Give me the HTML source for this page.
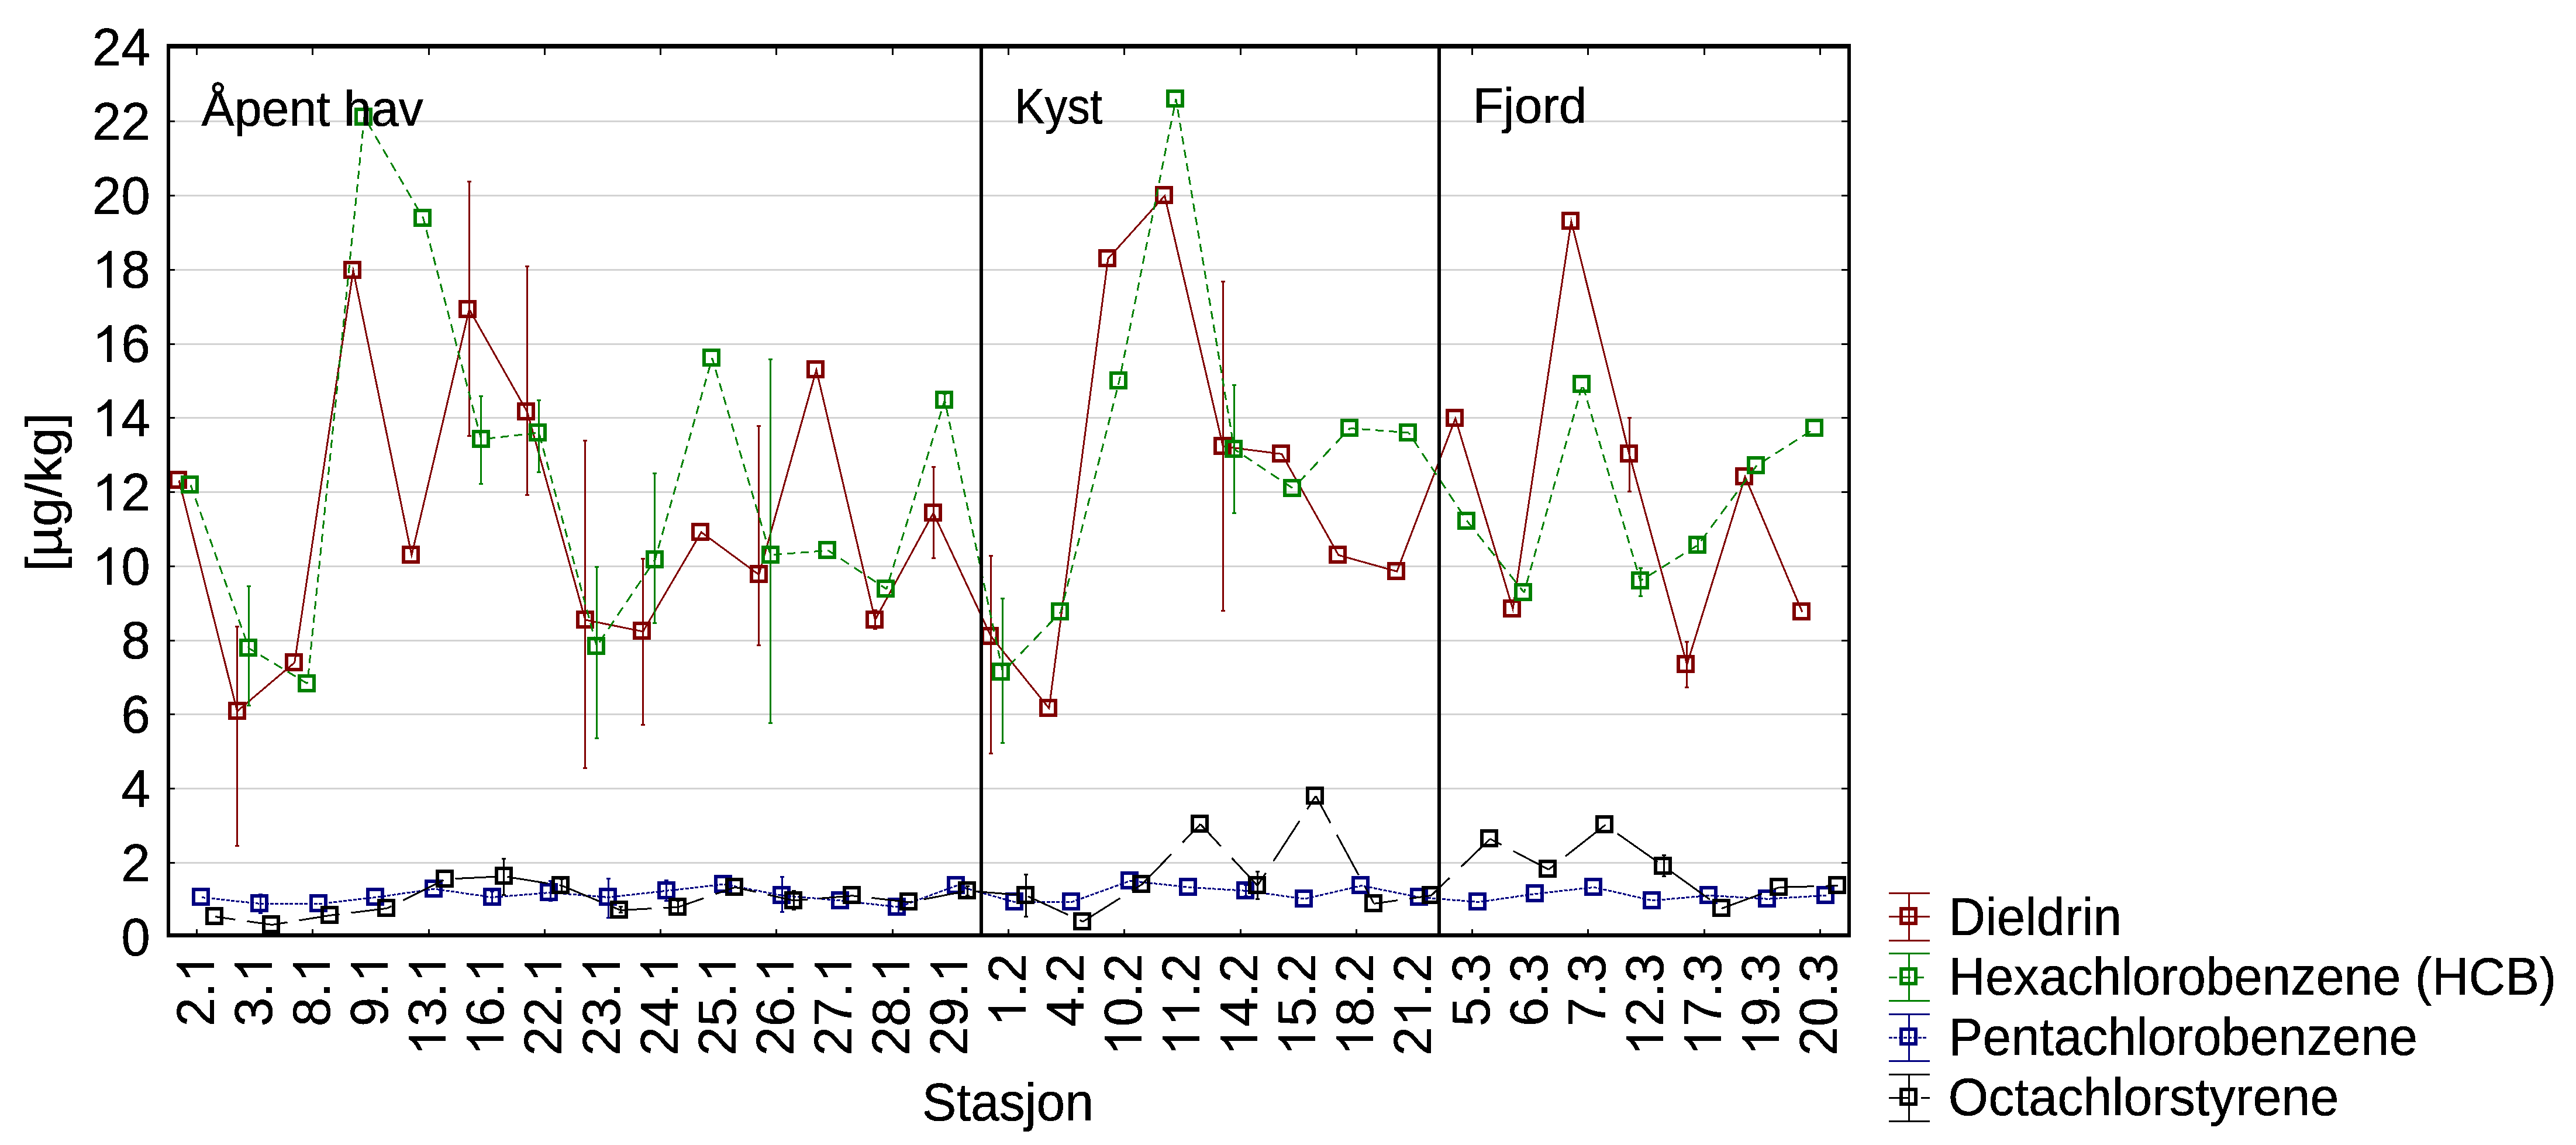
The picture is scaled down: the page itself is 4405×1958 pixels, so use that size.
<!DOCTYPE html>
<html lang="no">
<head>
<meta charset="utf-8">
<title>Stasjon</title>
<style>
html,body{margin:0;padding:0;background:#fff;}
body{width:4405px;height:1958px;overflow:hidden;}
svg{display:block;}
text{font-family:"Liberation Sans",sans-serif;fill:#000;}
.a{font-size:88px;stroke:#000;stroke-width:0.45px;}
.g1{fill:#000;stroke:#000;stroke-width:10;}
.s{font-size:83px;stroke:#000;stroke-width:0.6px;}
</style>
</head>
<body>
<svg width="4405" height="1958" viewBox="0 0 4405 1958" shape-rendering="crispEdges">
<defs><filter id="th" x="-5%" y="-5%" width="110%" height="110%" color-interpolation-filters="sRGB"><feComponentTransfer><feFuncA type="discrete" tableValues="0 1"/></feComponentTransfer></filter></defs>
<rect x="0" y="0" width="4405" height="1958" fill="#fff"/>
<g>
<rect x="299" y="1474" width="2850" height="3" fill="#d3d3d3"/>
<rect x="291" y="1474" width="8" height="3" fill="#000"/>
<rect x="3149" y="1474" width="10" height="3" fill="#000"/>
<rect x="299" y="1347" width="2850" height="3" fill="#d3d3d3"/>
<rect x="291" y="1347" width="8" height="3" fill="#000"/>
<rect x="3149" y="1347" width="10" height="3" fill="#000"/>
<rect x="299" y="1220" width="2850" height="3" fill="#d3d3d3"/>
<rect x="291" y="1220" width="8" height="3" fill="#000"/>
<rect x="3149" y="1220" width="10" height="3" fill="#000"/>
<rect x="299" y="1094" width="2850" height="3" fill="#d3d3d3"/>
<rect x="291" y="1094" width="8" height="3" fill="#000"/>
<rect x="3149" y="1094" width="10" height="3" fill="#000"/>
<rect x="299" y="967" width="2850" height="3" fill="#d3d3d3"/>
<rect x="291" y="967" width="8" height="3" fill="#000"/>
<rect x="3149" y="967" width="10" height="3" fill="#000"/>
<rect x="299" y="840" width="2850" height="3" fill="#d3d3d3"/>
<rect x="291" y="840" width="8" height="3" fill="#000"/>
<rect x="3149" y="840" width="10" height="3" fill="#000"/>
<rect x="299" y="713" width="2850" height="3" fill="#d3d3d3"/>
<rect x="291" y="713" width="8" height="3" fill="#000"/>
<rect x="3149" y="713" width="10" height="3" fill="#000"/>
<rect x="299" y="587" width="2850" height="3" fill="#d3d3d3"/>
<rect x="291" y="587" width="8" height="3" fill="#000"/>
<rect x="3149" y="587" width="10" height="3" fill="#000"/>
<rect x="299" y="460" width="2850" height="3" fill="#d3d3d3"/>
<rect x="291" y="460" width="8" height="3" fill="#000"/>
<rect x="3149" y="460" width="10" height="3" fill="#000"/>
<rect x="299" y="333" width="2850" height="3" fill="#d3d3d3"/>
<rect x="291" y="333" width="8" height="3" fill="#000"/>
<rect x="3149" y="333" width="10" height="3" fill="#000"/>
<rect x="299" y="206" width="2850" height="3" fill="#d3d3d3"/>
<rect x="291" y="206" width="8" height="3" fill="#000"/>
<rect x="3149" y="206" width="10" height="3" fill="#000"/>
</g>
<g fill="#000">
<rect x="335" y="83" width="3" height="11"/>
<rect x="335" y="1589" width="3" height="7"/>
<rect x="533" y="83" width="3" height="11"/>
<rect x="533" y="1589" width="3" height="7"/>
<rect x="732" y="83" width="3" height="11"/>
<rect x="732" y="1589" width="3" height="7"/>
<rect x="930" y="83" width="3" height="11"/>
<rect x="930" y="1589" width="3" height="7"/>
<rect x="1128" y="83" width="3" height="11"/>
<rect x="1128" y="1589" width="3" height="7"/>
<rect x="1326" y="83" width="3" height="11"/>
<rect x="1326" y="1589" width="3" height="7"/>
<rect x="1525" y="83" width="3" height="11"/>
<rect x="1525" y="1589" width="3" height="7"/>
<rect x="1723" y="83" width="3" height="11"/>
<rect x="1723" y="1589" width="3" height="7"/>
<rect x="1921" y="83" width="3" height="11"/>
<rect x="1921" y="1589" width="3" height="7"/>
<rect x="2120" y="83" width="3" height="11"/>
<rect x="2120" y="1589" width="3" height="7"/>
<rect x="2318" y="83" width="3" height="11"/>
<rect x="2318" y="1589" width="3" height="7"/>
<rect x="2516" y="83" width="3" height="11"/>
<rect x="2516" y="1589" width="3" height="7"/>
<rect x="2714" y="83" width="3" height="11"/>
<rect x="2714" y="1589" width="3" height="7"/>
<rect x="2913" y="83" width="3" height="11"/>
<rect x="2913" y="1589" width="3" height="7"/>
<rect x="3111" y="83" width="3" height="11"/>
<rect x="3111" y="1589" width="3" height="7"/>
</g>
<g stroke="#800000" fill="none">
<path stroke-width="3" stroke-linejoin="miter" stroke-miterlimit="12" d="M306 821.5 L405.6 1216.2 L503.7 1133 L604 462.5 L703.9 949.3 L802.4 529 L901.6 704.4 L1000.8 1060 L1099.6 1079.9 L1199.2 910.1 L1297.8 982.8 L1396 632.4 L1496.5 1060 L1596 877.3 L1694.6 1088.3 L1793.9 1211.3 L1894.8 442.4 L1991.6 334.8 L2091.4 763.5 L2191.8 776.4 L2288.9 949.3 L2388.8 977.2 L2488.8 715.6 L2587 1041.2 L2686.9 378.5 L2786 776.4 L2884.8 1136.2 L2984.1 815.2 L3081.9 1046.4"/>
<path stroke-width="3" d="M405.6 1070.9V1447.5M402.1 1071.9h7M402.1 1446.5h7M802.4 309.3V746.4M798.9 310.3h7M798.9 745.4h7M901.6 454.3V847.4M898.1 455.3h7M898.1 846.4h7M1000.8 752.3V1314.4M997.3 753.3h7M997.3 1313.4h7M1099.6 954.9V1240M1096.1 955.9h7M1096.1 1239h7M1297.8 727.5V1104.1M1294.3 728.5h7M1294.3 1103.1h7M1496.5 1042V1076M1493 1043h7M1493 1075h7M1596 797.4V955.3M1592.5 798.4h7M1592.5 954.3h7M1694.6 949.7V1289.2M1691.1 950.7h7M1691.1 1288.2h7M2091.4 480.5V1045.4M2087.9 481.5h7M2087.9 1044.4h7M2786 713.9V841.4M2782.5 714.9h7M2782.5 840.4h7M2884.8 1096.4V1176.8M2881.3 1097.4h7M2881.3 1175.8h7"/>
<path stroke-width="6" d="M292 808h25v25h-25zM392.6 1202.7h25v25h-25zM489.7 1119.5h25v25h-25zM590 449h25v25h-25zM689.9 935.8h25v25h-25zM787.1 515.5h25v25h-25zM887.3 690.9h25v25h-25zM987.6 1046.5h25v25h-25zM1084.7 1066.4h25v25h-25zM1185.2 896.6h25v25h-25zM1284.8 969.3h25v25h-25zM1382 618.9h25v25h-25zM1482.9 1046.5h25v25h-25zM1582.9 863.8h25v25h-25zM1679.7 1074.8h25v25h-25zM1779.9 1197.8h25v25h-25zM1880.8 428.9h25v25h-25zM1977.6 321.3h25v25h-25zM2077.5 750h25v25h-25zM2177.8 762.9h25v25h-25zM2274.9 935.8h25v25h-25zM2374.8 963.7h25v25h-25zM2474.8 702.1h25v25h-25zM2573 1027.7h25v25h-25zM2672.9 365h25v25h-25zM2773 762.9h25v25h-25zM2870.2 1122.7h25v25h-25zM2970.1 801.7h25v25h-25zM3067.9 1032.9h25v25h-25z"/>
</g>
<g stroke="#008000" fill="none">
<path stroke-width="3" stroke-linejoin="miter" stroke-miterlimit="12" d="M326 829.5L331 843.5M334.2 852.5L339.2 866.5M342.4 875.5L347.4 889.5M350.6 898.5L355.6 912.5M358.9 921.5L363.9 935.5M367.1 944.5L372.1 958.5M375.3 967.5L380.3 981.5M383.5 990.5L388.5 1004.5M391.7 1013.5L396.7 1027.5M399.9 1036.5L404.9 1050.5M408.2 1059.5L413.2 1073.5M416.4 1082.5L421.4 1096.5M424.6 1105.5L425.7 1108.6M425.7 1108.6L436.6 1115.2M445.6 1120.6L459.6 1129.1M468.6 1134.5L482.6 1143M491.6 1148.4L505.6 1156.9M514.6 1162.3L525.7 1169M525.7 1169L526 1166.1M526.9 1157.1L528.3 1143.1M529.2 1134.1L530.6 1120.1M531.5 1111.1L532.9 1097.1M533.8 1088.1L535.2 1074.1M536.1 1065.1L537.5 1051.1M538.4 1042.1L539.8 1028.1M540.7 1019.1L542.1 1005.1M543 996.1L544.5 982.1M545.4 973.1L546.8 959.1M547.7 950.1L549.1 936.1M550 927.1L551.4 913.1M552.3 904.1L553.7 890.1M554.6 881.1L556 867.1M556.9 858.1L558.3 844.1M559.2 835.1L560.6 821.1M561.5 812.1L562.9 798.1M563.8 789.1L565.2 775.1M566.1 766.1L567.5 752.1M568.4 743.1L569.8 729.1M570.7 720.1L572.1 706.1M573.1 697.1L574.5 683.1M575.4 674.1L576.8 660.1M577.7 651.1L579.1 637.1M580 628.1L581.4 614.1M582.3 605.1L583.7 591.1M584.6 582.1L586 568.1M586.9 559.1L588.3 545.1M589.2 536.1L590.6 522.1M591.5 513.1L592.9 499.1M593.8 490.1L595.2 476.1M596.1 467.1L597.5 453.1M598.4 444.1L599.8 430.1M600.7 421.1L602.1 407.1M603.1 398.1L604.5 384.1M605.4 375.1L606.8 361.1M607.7 352.1L609.1 338.1M610 329.1L611.4 315.1M612.3 306.1L613.7 292.1M614.6 283.1L616 269.1M616.9 260.1L618.3 246.1M619.2 237.1L620.6 223.1M621.5 214.1L622.9 200.3M622.9 200.3L623 200.5M628.3 209.5L636.4 223.5M641.7 232.5L649.9 246.5M655.1 255.5L663.3 269.5M668.5 278.5L676.7 292.5M682 301.5L690.1 315.5M695.4 324.5L703.5 338.5M708.8 347.5L717 361.5M722.2 370.5L723.8 373.2M723.8 373.2L726.8 384.5M729.1 393.5L732.8 407.5M735.1 416.5L738.8 430.5M741.2 439.5L744.8 453.5M747.2 462.5L750.9 476.5M753.2 485.5L756.9 499.5M759.2 508.5L762.9 522.5M765.3 531.5L768.9 545.5M771.3 554.5L774.9 568.5M777.3 577.5L781 591.5M783.3 600.5L787 614.5M789.4 623.5L793 637.5M795.4 646.5L799 660.5M801.4 669.5L805.1 683.5M807.4 692.5L811.1 706.5M813.4 715.5L817.1 729.5M819.5 738.5L822.8 751.2M822.8 751.2L824.1 751.1M833.1 750L847.1 748.4M856.1 747.4L870.1 745.8M879.1 744.8L893.1 743.2M902.1 742.2L916.1 740.6M922.5 743.6L926.3 757.6M928.7 766.6L932.5 780.6M934.9 789.6L938.7 803.6M941.2 812.6L945 826.6M947.4 835.6L951.2 849.6M953.6 858.6L957.4 872.6M959.9 881.6L963.6 895.6M966.1 904.6L969.9 918.6M972.3 927.6L976.1 941.6M978.5 950.6L982.3 964.6M984.8 973.6L988.6 987.6M991 996.6L994.8 1010.6M997.2 1019.6L1001 1033.6M1003.5 1042.6L1007.3 1056.6M1009.7 1065.6L1013.5 1079.6M1015.9 1088.6L1019.7 1102.6M1024.8 1098.6L1034.2 1084.6M1040.3 1075.6L1049.8 1061.6M1055.8 1052.6L1065.3 1038.6M1071.4 1029.6L1080.8 1015.6M1086.9 1006.6L1096.3 992.6M1102.4 983.6L1111.9 969.6M1117.9 960.6L1119.9 957.7M1119.9 957.7L1123 946.6M1125.6 937.6L1129.6 923.6M1132.1 914.6L1136.1 900.6M1138.6 891.6L1142.6 877.6M1145.2 868.6L1149.1 854.6M1151.7 845.6L1155.7 831.6M1158.2 822.6L1162.2 808.6M1164.7 799.6L1168.7 785.6M1171.3 776.6L1175.2 762.6M1177.8 753.6L1181.8 739.6M1184.3 730.6L1188.3 716.6M1190.8 707.6L1194.8 693.6M1197.4 684.6L1201.3 670.6M1203.9 661.6L1207.8 647.6M1210.4 638.6L1214.4 624.6M1216.9 615.6L1217.8 612.5M1217.8 612.5L1221 623.4M1223.7 632.4L1227.8 646.4M1230.5 655.4L1234.7 669.4M1237.3 678.4L1241.5 692.4M1244.1 701.4L1248.3 715.4M1251 724.4L1255.1 738.4M1257.8 747.4L1261.9 761.4M1264.6 770.4L1268.7 784.4M1271.4 793.4L1275.6 807.4M1278.2 816.4L1282.4 830.4M1285 839.4L1289.2 853.4M1291.8 862.4L1296 876.4M1298.7 885.4L1302.8 899.4M1305.5 908.4L1309.6 922.4M1312.3 931.4L1316.4 945.4M1322.7 948.9L1336.7 947.7M1345.7 947L1359.7 945.8M1368.7 945.1L1382.7 944M1391.7 943.2L1405.7 942.1M1414.7 941.3L1416.2 941.2M1416.2 941.2L1428.7 949.5M1437.7 955.5L1451.7 964.8M1460.7 970.7L1474.7 980M1483.7 986L1497.7 995.3M1506.7 1001.3L1515.8 1007.3M1515.8 1007.3L1517.3 1002.4M1520.1 993.4L1524.4 979.4M1527.2 970.4L1531.5 956.4M1534.3 947.4L1538.6 933.4M1541.4 924.4L1545.8 910.4M1548.5 901.4L1552.9 887.4M1555.6 878.4L1560 864.4M1562.8 855.4L1567.1 841.4M1569.9 832.4L1574.2 818.4M1577 809.4L1581.3 795.4M1584.1 786.4L1588.4 772.4M1591.2 763.4L1595.5 749.4M1598.3 740.4L1602.6 726.4M1605.4 717.4L1609.7 703.4M1612.5 694.4L1615.5 684.8M1615.5 684.8L1616.4 689.2M1618.4 698.2L1621.4 712.2M1623.3 721.2L1626.3 735.2M1628.2 744.2L1631.2 758.2M1633.1 767.2L1636.1 781.2M1638 790.2L1641 804.2M1643 813.2L1646 827.2M1647.9 836.2L1650.9 850.2M1652.8 859.2L1655.8 873.2M1657.7 882.2L1660.7 896.2M1662.6 905.2L1665.6 919.2M1667.6 928.2L1670.6 942.2M1672.5 951.2L1675.5 965.2M1677.4 974.2L1680.4 988.2M1682.3 997.2L1685.3 1011.2M1687.2 1020.2L1690.2 1034.2M1692.2 1043.2L1695.2 1057.2M1697.1 1066.2L1700.1 1080.2M1702 1089.2L1705 1103.2M1706.9 1112.2L1709.9 1126.2M1711.8 1135.2L1714.8 1149.2M1723.3 1140.8L1736.7 1126.8M1745.3 1117.8L1758.8 1103.8M1767.4 1094.8L1780.9 1080.8M1789.5 1071.8L1803 1057.8M1811.6 1048.8L1813.9 1046.4M1813.9 1046.4L1816.8 1034.8M1819.1 1025.8L1822.7 1011.8M1824.9 1002.8L1828.5 988.8M1830.8 979.8L1834.3 965.8M1836.6 956.8L1840.1 942.8M1842.4 933.8L1846 919.8M1848.3 910.8L1851.8 896.8M1854.1 887.8L1857.6 873.8M1859.9 864.8L1863.5 850.8M1865.7 841.8L1869.3 827.8M1871.6 818.8L1875.1 804.8M1877.4 795.8L1880.9 781.8M1883.2 772.8L1886.8 758.8M1889 749.8L1892.6 735.8M1894.9 726.8L1898.4 712.8M1900.7 703.8L1904.2 689.8M1906.5 680.8L1910.1 666.8M1912.4 657.8L1914 651.3M1914 651.3L1915.5 643.8M1917.3 634.8L1920.1 620.8M1921.9 611.8L1924.8 597.8M1926.6 588.8L1929.4 574.8M1931.2 565.8L1934 551.8M1935.8 542.8L1938.6 528.8M1940.4 519.8L1943.3 505.8M1945.1 496.8L1947.9 482.8M1949.7 473.8L1952.5 459.8M1954.3 450.8L1957.1 436.8M1958.9 427.8L1961.7 413.8M1963.6 404.8L1966.4 390.8M1968.2 381.8L1971 367.8M1972.8 358.8L1975.6 344.8M1977.4 335.8L1980.2 321.8M1982.1 312.8L1984.9 298.8M1986.7 289.8L1989.5 275.8M1991.3 266.8L1994.1 252.8M1995.9 243.8L1998.7 229.8M2000.5 220.8L2003.4 206.8M2005.2 197.8L2008 183.8M2009.8 174.8L2010.9 169.3M2010.9 169.3L2012.3 177.8M2013.8 186.8L2016.1 200.8M2017.6 209.8L2020 223.8M2021.5 232.8L2023.8 246.8M2025.3 255.8L2027.6 269.8M2029.1 278.8L2031.5 292.8M2033 301.8L2035.3 315.8M2036.8 324.8L2039.1 338.8M2040.6 347.8L2042.9 361.8M2044.4 370.8L2046.8 384.8M2048.3 393.8L2050.6 407.8M2052.1 416.8L2054.4 430.8M2055.9 439.8L2058.3 453.8M2059.8 462.8L2062.1 476.8M2063.6 485.8L2065.9 499.8M2067.4 508.8L2069.7 522.8M2071.2 531.8L2073.6 545.8M2075.1 554.8L2077.4 568.8M2078.9 577.8L2081.2 591.8M2082.7 600.8L2085.1 614.8M2086.5 623.8L2088.9 637.8M2090.4 646.8L2092.7 660.8M2094.2 669.8L2096.5 683.8M2098 692.8L2100.4 706.8M2101.9 715.8L2104.2 729.8M2105.7 738.8L2108 752.8M2109.5 761.8L2110.6 768.3M2110.6 768.3L2118.1 773.3M2127.1 779.3L2141.1 788.6M2150.1 794.6L2164.1 803.9M2173.1 809.9L2187.1 819.2M2196.1 825.2L2210.1 834.5M2218.7 827L2232 813M2240.5 804L2253.8 790M2262.4 781L2275.7 767M2284.2 758L2297.5 744M2306 735L2308.5 732.4M2308.5 732.4L2319.9 733.3M2328.9 733.9L2342.9 735M2351.9 735.7L2365.9 736.7M2374.9 737.4L2388.9 738.5M2397.9 739.2L2408.8 740M2408.8 740L2410.9 743.1M2416.8 752.1L2426.1 766.1M2432 775.1L2441.3 789.1M2447.3 798.1L2456.5 812.1M2462.5 821.1L2471.8 835.1M2477.7 844.1L2487 858.1M2493 867.1L2502.2 881.1M2508.2 890.1L2509 891.3M2509 891.3L2519.2 904.1M2526.4 913.1L2537.5 927.1M2544.7 936.1L2555.9 950.1M2563.1 959.1L2574.2 973.1M2581.4 982.1L2592.6 996.1M2599.7 1005.1L2606.2 1013.2M2606.2 1013.2L2607.9 1007.3M2610.4 998.3L2614.3 984.3M2616.8 975.3L2620.8 961.3M2623.3 952.3L2627.2 938.3M2629.8 929.3L2633.7 915.3M2636.2 906.3L2640.2 892.3M2642.7 883.3L2646.6 869.3M2649.2 860.3L2653.1 846.3M2655.6 837.3L2659.5 823.3M2662.1 814.3L2666 800.3M2668.5 791.3L2672.5 777.3M2675 768.3L2678.9 754.3M2681.5 745.3L2685.4 731.3M2687.9 722.3L2691.9 708.3M2694.4 699.3L2698.3 685.3M2700.8 676.3L2704.8 662.3M2707.4 661.9L2711.5 675.9M2714.1 684.9L2718.3 698.9M2720.9 707.9L2725 721.9M2727.7 730.9L2731.8 744.9M2734.5 753.9L2738.6 767.9M2741.2 776.9L2745.4 790.9M2748 799.9L2752.1 813.9M2754.8 822.9L2758.9 836.9M2761.6 845.9L2765.7 859.9M2768.4 868.9L2772.5 882.9M2775.1 891.9L2779.3 905.9M2781.9 914.9L2786 928.9M2788.7 937.9L2792.8 951.9M2795.5 960.9L2799.6 974.9M2802.2 983.9L2805 993.3M2805 993.3L2809.6 990.4M2818.6 984.9L2832.6 976.2M2841.6 970.6L2855.6 961.9M2864.6 956.3L2878.6 947.6M2887.6 942L2901.6 933.3M2908.7 925L2919.1 911M2925.7 902L2936.1 888M2942.7 879L2953 865M2959.7 856L2970 842M2976.7 833L2987 819M2993.7 810L3004 796M3013 790.3L3027 781.4M3036 775.6L3050 766.7M3059 761L3073 752.1M3082 746.3L3096 737.4"/>
<path stroke-width="3" d="M425.7 1001.4V1207.2M422.2 1002.4h7M422.2 1206.2h7M822.8 676.9V828.1M819.3 677.9h7M819.3 827.1h7M921.5 683.1V808.9M918 684.1h7M918 807.9h7M1020.4 968.2V1263.1M1016.9 969.2h7M1016.9 1262.1h7M1119.9 808.9V1066.4M1116.4 809.9h7M1116.4 1065.4h7M1317.6 613.3V1237.2M1314.1 614.3h7M1314.1 1236.2h7M1615.5 672V697M1612 673h7M1612 696h7M1714.9 1022.3V1271.7M1711.4 1023.3h7M1711.4 1270.7h7M2110.6 657.6V878.7M2107.1 658.6h7M2107.1 877.7h7M2805 970.3V1020.6M2801.5 971.3h7M2801.5 1019.6h7M2903.5 920V944M2900 921h7M2900 943h7"/>
<path stroke-width="6" d="M312 816h25v25h-25zM411.8 1095.1h25v25h-25zM511.7 1155.5h25v25h-25zM608.9 186.8h25v25h-25zM709.8 359.7h25v25h-25zM809.8 737.7h25v25h-25zM906.5 726.5h25v25h-25zM1006.8 1091.6h25v25h-25zM1106.9 944.2h25v25h-25zM1203.8 599h25v25h-25zM1304.7 935.8h25v25h-25zM1402.2 927.7h25v25h-25zM1501.8 993.8h25v25h-25zM1601.7 671.3h25v25h-25zM1698.9 1136h25v25h-25zM1799.9 1032.9h25v25h-25zM1900 637.8h25v25h-25zM1996.9 155.8h25v25h-25zM2097.1 754.8h25v25h-25zM2197 821.6h25v25h-25zM2294.5 718.9h25v25h-25zM2394.8 726.5h25v25h-25zM2495 877.8h25v25h-25zM2592.2 999.7h25v25h-25zM2692.1 644.1h25v25h-25zM2791.9 979.8h25v25h-25zM2889.7 918.6h25v25h-25zM2990 782.5h25v25h-25zM3089.9 718.9h25v25h-25z"/>
</g>
<g stroke="#000080" fill="none">
<path stroke-width="3" stroke-linejoin="miter" stroke-miterlimit="12" d="M345 1534.5L351 1535.2M353.4 1535.4L359.4 1536.1M361.7 1536.3L367.7 1537M370.1 1537.2L376.1 1537.9M378.4 1538.2L384.4 1538.8M386.8 1539.1L392.8 1539.7M395.1 1540L401.1 1540.6M403.4 1540.9L409.4 1541.6M411.8 1541.8L417.8 1542.5M420.1 1542.7L426.1 1543.4M428.5 1543.6L434.5 1544.3M436.8 1544.6L442.8 1545.2M445.2 1545.5L445.5 1545.5M445.5 1545.5L451.2 1545.5M453.5 1545.5L459.5 1545.5M461.9 1545.5L467.9 1545.5M470.2 1545.5L476.2 1545.5M478.6 1545.5L484.6 1545.5M486.9 1545.5L492.9 1545.5M495.3 1545.5L501.3 1545.6M503.6 1545.6L509.6 1545.6M512 1545.6L518 1545.6M520.3 1545.6L526.3 1545.6M528.7 1545.6L534.7 1545.6M537 1545.6L543 1545.6M545.4 1545.6L546 1545.6M546 1545.6L551.4 1545M553.8 1544.7L559.8 1544M562.1 1543.8L568.1 1543.1M570.4 1542.8L576.4 1542.1M578.8 1541.8L584.8 1541.2M587.1 1540.9L593.1 1540.2M595.5 1539.9L601.5 1539.2M603.8 1539L609.8 1538.3M612.2 1538L618.2 1537.3M620.5 1537.1L626.5 1536.4M628.9 1536.1L634.9 1535.4M637.2 1535.1L642.8 1534.5M642.8 1534.5L643.2 1534.4M645.6 1534.1L651.6 1533.2M653.9 1532.9L659.9 1532M662.3 1531.7L668.3 1530.8M670.6 1530.5L676.6 1529.6M679 1529.3L685 1528.4M687.3 1528.1L693.3 1527.2M695.7 1526.9L701.7 1526M704 1525.7L710 1524.8M712.4 1524.5L718.4 1523.6M720.7 1523.3L726.7 1522.4M729.1 1522.1L735.1 1521.2M737.4 1520.9L743.1 1520.1M743.1 1520.1L743.4 1520.2M745.8 1520.5L751.8 1521.4M754.1 1521.7L760.1 1522.6M762.5 1522.9L768.5 1523.8M770.8 1524.2L776.8 1525M779.2 1525.4L785.2 1526.2M787.5 1526.6L793.5 1527.5M795.9 1527.8L801.9 1528.7M804.2 1529L810.2 1529.9M812.6 1530.3L818.6 1531.1M820.9 1531.5L826.9 1532.3M829.3 1532.7L835.3 1533.6M837.6 1533.9L841.7 1534.5M841.7 1534.5L843.6 1534.3M846 1534.1L852 1533.7M854.3 1533.5L860.3 1533M862.7 1532.8L868.7 1532.3M871 1532.1L877 1531.6M879.4 1531.4L885.4 1530.9M887.7 1530.7L893.7 1530.3M896.1 1530.1L902.1 1529.6M904.4 1529.4L910.4 1528.9M912.8 1528.7L918.8 1528.2M921.1 1528L927.1 1527.5M929.5 1527.3L935.5 1526.8M937.8 1526.7L941 1526.4M941 1526.4L943.8 1526.6M946.2 1526.8L952.2 1527.3M954.5 1527.5L960.5 1528M962.9 1528.2L968.9 1528.7M971.2 1528.9L977.2 1529.3M979.6 1529.5L985.6 1530M987.9 1530.2L993.9 1530.7M996.3 1530.9L1002.3 1531.4M1004.6 1531.6L1010.6 1532.1M1013 1532.2L1019 1532.7M1021.3 1532.9L1027.3 1533.4M1029.7 1533.6L1035.7 1534.1M1038 1534.3L1040.7 1534.5M1040.7 1534.5L1044 1534.1M1046.4 1533.9L1052.4 1533.2M1054.7 1532.9L1060.7 1532.2M1063.1 1532L1069.1 1531.3M1071.4 1531L1077.4 1530.3M1079.8 1530.1L1085.8 1529.4M1088.1 1529.1L1094.1 1528.4M1096.5 1528.2L1102.5 1527.5M1104.8 1527.2L1110.8 1526.6M1113.2 1526.3L1119.2 1525.6M1121.5 1525.3L1127.5 1524.7M1129.9 1524.4L1135.9 1523.7M1138.2 1523.5L1139.6 1523.3M1139.6 1523.3L1144.2 1522.8M1146.6 1522.5L1152.6 1521.8M1154.9 1521.6L1160.9 1520.9M1163.3 1520.6L1169.3 1519.9M1171.6 1519.7L1177.6 1519M1180 1518.7L1186 1518M1188.3 1517.8L1194.3 1517.1M1196.7 1516.8L1202.7 1516.1M1205 1515.9L1211 1515.2M1213.4 1514.9L1219.4 1514.2M1221.7 1513.9L1227.7 1513.3M1230.1 1513L1236.1 1512.3M1238.4 1512.2L1244.4 1513.3M1246.8 1513.8L1252.8 1515M1255.1 1515.4L1261.1 1516.6M1263.5 1517L1269.5 1518.2M1271.8 1518.6L1277.8 1519.8M1280.2 1520.2L1286.2 1521.4M1288.5 1521.9L1294.5 1523M1296.9 1523.5L1302.9 1524.6M1305.2 1525.1L1311.2 1526.2M1313.6 1526.7L1319.6 1527.8M1321.9 1528.3L1327.9 1529.5M1330.3 1529.9L1336.3 1531.1M1338.6 1531.4L1344.6 1531.9M1347 1532.1L1353 1532.6M1355.3 1532.8L1361.3 1533.4M1363.7 1533.6L1369.7 1534.1M1372 1534.3L1378 1534.8M1380.4 1535L1386.4 1535.5M1388.7 1535.7L1394.7 1536.3M1397.1 1536.5L1403.1 1537M1405.4 1537.2L1411.4 1537.7M1413.8 1537.9L1419.8 1538.4M1422.1 1538.6L1428.1 1539.2M1430.5 1539.4L1436.5 1539.9M1438.8 1540.1L1444.8 1540.8M1447.2 1541.1L1453.2 1541.7M1455.5 1542L1461.5 1542.7M1463.9 1543L1469.9 1543.6M1472.2 1543.9L1478.2 1544.6M1480.6 1544.9L1486.6 1545.5M1488.9 1545.8L1494.9 1546.5M1497.3 1546.7L1503.3 1547.4M1505.6 1547.7L1511.6 1548.4M1514 1548.6L1520 1549.3M1522.3 1549.6L1528.3 1550.3M1530.7 1550.5L1536.5 1551.2M1536.5 1551.2L1536.7 1551.1M1539 1550.3L1545 1548M1547.4 1547.2L1553.4 1544.9M1555.7 1544.1L1561.7 1541.9M1564.1 1541L1570.1 1538.8M1572.4 1537.9L1578.4 1535.7M1580.8 1534.8L1586.8 1532.6M1589.1 1531.7L1595.1 1529.5M1597.5 1528.6L1603.5 1526.4M1605.8 1525.5L1611.8 1523.3M1614.2 1522.5L1620.2 1520.2M1622.5 1519.4L1628.5 1517.1M1630.9 1516.3L1635.7 1514.5M1635.7 1514.5L1636.9 1514.8M1639.2 1515.5L1645.2 1517.2M1647.6 1517.9L1653.6 1519.6M1655.9 1520.2L1661.9 1521.9M1664.3 1522.6L1670.3 1524.3M1672.6 1525L1678.6 1526.7M1681 1527.3L1687 1529M1689.3 1529.7L1695.3 1531.4M1697.7 1532.1L1703.7 1533.8M1706 1534.4L1712 1536.1M1714.4 1536.8L1720.4 1538.5M1722.7 1539.2L1728.7 1540.9M1731.1 1541.5L1735.6 1542.8M1735.6 1542.8L1737.1 1542.8M1739.4 1542.8L1745.4 1542.8M1747.8 1542.8L1753.8 1542.7M1756.1 1542.7L1762.1 1542.7M1764.5 1542.7L1770.5 1542.7M1772.8 1542.7L1778.8 1542.7M1781.2 1542.7L1787.2 1542.6M1789.5 1542.6L1795.5 1542.6M1797.9 1542.6L1803.9 1542.6M1806.2 1542.6L1812.2 1542.6M1814.6 1542.6L1820.6 1542.5M1822.9 1542.5L1828.9 1542.5M1831.3 1542.5L1832.7 1542.5M1832.7 1542.5L1837.3 1540.8M1839.6 1540L1845.6 1537.8M1848 1537L1854 1534.8M1856.3 1533.9L1862.3 1531.8M1864.7 1530.9L1870.7 1528.7M1873 1527.9L1879 1525.7M1881.4 1524.9L1887.4 1522.7M1889.7 1521.8L1895.7 1519.7M1898.1 1518.8L1904.1 1516.6M1906.4 1515.8L1912.4 1513.6M1914.8 1512.8L1920.8 1510.6M1923.1 1509.7L1929.1 1507.6M1931.5 1506.7L1932.9 1506.2M1932.9 1506.2L1937.5 1506.7M1939.8 1507L1945.8 1507.6M1948.2 1507.9L1954.2 1508.6M1956.5 1508.8L1962.5 1509.5M1964.9 1509.8L1970.9 1510.4M1973.2 1510.7L1979.2 1511.3M1981.6 1511.6L1987.6 1512.3M1989.9 1512.5L1995.9 1513.2M1998.3 1513.5L2004.3 1514.1M2006.6 1514.4L2012.6 1515.1M2015 1515.3L2021 1516M2023.3 1516.2L2029.3 1516.9M2031.7 1517.2L2032.8 1517.3M2032.8 1517.3L2037.7 1517.6M2040 1517.7L2046 1518.1M2048.4 1518.3L2054.4 1518.6M2056.7 1518.8L2062.7 1519.1M2065.1 1519.3L2071.1 1519.7M2073.4 1519.8L2079.4 1520.2M2081.8 1520.3L2087.8 1520.7M2090.1 1520.8L2096.1 1521.2M2098.5 1521.3L2104.5 1521.7M2106.8 1521.8L2112.8 1522.2M2115.2 1522.4L2121.2 1522.7M2123.5 1522.9L2129.5 1523.2M2131.9 1523.5L2137.9 1524.3M2140.2 1524.6L2146.2 1525.5M2148.6 1525.8L2154.6 1526.6M2156.9 1527L2162.9 1527.8M2165.3 1528.1L2171.3 1528.9M2173.6 1529.3L2179.6 1530.1M2182 1530.4L2188 1531.3M2190.3 1531.6L2196.3 1532.4M2198.7 1532.7L2204.7 1533.6M2207 1533.9L2213 1534.7M2215.4 1535.1L2221.4 1535.9M2223.7 1536.2L2229.7 1537M2232.1 1536.9L2238.1 1535.5M2240.4 1535L2246.4 1533.6M2248.8 1533L2254.8 1531.6M2257.1 1531.1L2263.1 1529.7M2265.5 1529.1L2271.5 1527.7M2273.8 1527.2L2279.8 1525.8M2282.2 1525.2L2288.2 1523.8M2290.5 1523.3L2296.5 1521.9M2298.9 1521.3L2304.9 1519.9M2307.2 1519.4L2313.2 1517.9M2315.6 1517.4L2321.6 1516M2323.9 1515.4L2328 1514.5M2328 1514.5L2329.9 1514.9M2332.3 1515.4L2338.3 1516.6M2340.6 1517L2346.6 1518.2M2349 1518.7L2355 1519.9M2357.3 1520.4L2363.3 1521.6M2365.7 1522.1L2371.7 1523.3M2374 1523.7L2380 1525M2382.4 1525.4L2388.4 1526.6M2390.7 1527.1L2396.7 1528.3M2399.1 1528.8L2405.1 1530M2407.4 1530.5L2413.4 1531.7M2415.8 1532.1L2421.8 1533.3M2424.1 1533.8L2427.6 1534.5M2427.6 1534.5L2430.1 1534.7M2432.5 1534.9L2438.5 1535.4M2440.8 1535.6L2446.8 1536M2449.2 1536.2L2455.2 1536.7M2457.5 1536.9L2463.5 1537.4M2465.9 1537.5L2471.9 1538M2474.2 1538.2L2480.2 1538.7M2482.6 1538.9L2488.6 1539.3M2490.9 1539.5L2496.9 1540M2499.3 1540.2L2505.3 1540.7M2507.6 1540.9L2513.6 1541.3M2516 1541.5L2522 1542M2524.3 1542.2L2528.3 1542.5M2528.3 1542.5L2530.3 1542.2M2532.7 1541.9L2538.7 1541M2541 1540.7L2547 1539.8M2549.4 1539.5L2555.4 1538.6M2557.7 1538.3L2563.7 1537.4M2566.1 1537.1L2572.1 1536.2M2574.4 1535.9L2580.4 1535M2582.8 1534.7L2588.8 1533.8M2591.1 1533.5L2597.1 1532.6M2599.5 1532.3L2605.5 1531.4M2607.8 1531.1L2613.8 1530.2M2616.2 1529.9L2622.2 1529M2624.5 1528.7L2625.7 1528.5M2625.7 1528.5L2630.5 1528M2632.9 1527.7L2638.9 1527M2641.2 1526.8L2647.2 1526.1M2649.6 1525.8L2655.6 1525.2M2657.9 1524.9L2663.9 1524.2M2666.3 1524L2672.3 1523.3M2674.6 1523L2680.6 1522.4M2683 1522.1L2689 1521.4M2691.3 1521.2L2697.3 1520.5M2699.7 1520.2L2705.7 1519.5M2708 1519.3L2714 1518.6M2716.4 1518.4L2722.4 1517.7M2724.7 1517.4L2725.8 1517.3M2725.8 1517.3L2730.7 1518.4M2733.1 1519L2739.1 1520.3M2741.4 1520.9L2747.4 1522.2M2749.8 1522.7L2755.8 1524.1M2758.1 1524.6L2764.1 1526M2766.5 1526.5L2772.5 1527.9M2774.8 1528.4L2780.8 1529.8M2783.2 1530.3L2789.2 1531.7M2791.5 1532.2L2797.5 1533.6M2799.9 1534.1L2805.9 1535.5M2808.2 1536L2814.2 1537.4M2816.6 1537.9L2822.6 1539.3M2824.9 1539.8L2825.8 1540M2825.8 1540L2830.9 1539.5M2833.3 1539.3L2839.3 1538.8M2841.6 1538.6L2847.6 1538M2850 1537.8L2856 1537.3M2858.3 1537.1L2864.3 1536.5M2866.7 1536.3L2872.7 1535.8M2875 1535.6L2881 1535M2883.4 1534.8L2889.4 1534.3M2891.7 1534.1L2897.7 1533.6M2900.1 1533.3L2906.1 1532.8M2908.4 1532.6L2914.4 1532.1M2916.8 1531.8L2922.8 1531.3M2925.1 1531.4L2931.1 1531.8M2933.5 1531.9L2939.5 1532.3M2941.8 1532.4L2947.8 1532.8M2950.2 1532.9L2956.2 1533.3M2958.5 1533.4L2964.5 1533.8M2966.9 1533.9L2972.9 1534.2M2975.2 1534.4L2981.2 1534.7M2983.6 1534.9L2989.6 1535.2M2991.9 1535.4L2997.9 1535.7M3000.3 1535.9L3006.3 1536.2M3008.6 1536.4L3014.6 1536.7M3017 1536.9L3022.9 1537.2M3022.9 1537.2L3023 1537.2M3025.3 1537.1L3031.3 1536.7M3033.7 1536.6L3039.7 1536.2M3042 1536.1L3048 1535.7M3050.4 1535.6L3056.4 1535.2M3058.7 1535.1L3064.7 1534.7M3067.1 1534.6L3073.1 1534.2M3075.4 1534.1L3081.4 1533.8M3083.8 1533.6L3089.8 1533.3M3092.1 1533.1L3098.1 1532.8M3100.5 1532.6L3106.5 1532.3M3108.8 1532.1L3114.8 1531.8M3117.2 1531.6L3123.1 1531.3"/>
<path stroke-width="3" d="M445.5 1528V1562M442 1529h7M442 1561h7M841.7 1523V1545M838.2 1524h7M838.2 1544h7M941 1505.5V1541M937.5 1506.5h7M937.5 1540h7M1040.7 1501.5V1570M1037.2 1502.5h7M1037.2 1569h7M1139.6 1504.5V1541M1136.1 1505.5h7M1136.1 1540h7M1337.5 1498.5V1560.5M1334 1499.5h7M1334 1559.5h7M1536.5 1538V1563M1533 1539h7M1533 1562h7M2130.5 1512V1533M2127 1513h7M2127 1532h7"/>
<path stroke-width="6" d="M331 1521h25v25h-25zM431 1532h25v25h-25zM532 1532.1h25v25h-25zM628.8 1521h25v25h-25zM729.1 1506.6h25v25h-25zM829 1521h25v25h-25zM925.8 1512.9h25v25h-25zM1026.8 1521h25v25h-25zM1126.8 1509.8h25v25h-25zM1224 1498.6h25v25h-25zM1324 1517.8h25v25h-25zM1423.9 1526.5h25v25h-25zM1520.7 1537.7h25v25h-25zM1621.7 1501h25v25h-25zM1721.6 1529.3h25v25h-25zM1818.7 1529h25v25h-25zM1918.9 1492.7h25v25h-25zM2018.8 1503.8h25v25h-25zM2116.6 1509.8h25v25h-25zM2216.9 1523.7h25v25h-25zM2314 1501h25v25h-25zM2413.6 1521h25v25h-25zM2514.3 1529h25v25h-25zM2611.7 1515h25v25h-25zM2711.8 1503.8h25v25h-25zM2811.8 1526.5h25v25h-25zM2908.9 1517.8h25v25h-25zM3008.9 1523.7h25v25h-25zM3109.1 1517.8h25v25h-25z"/>
</g>
<g stroke="#000000" fill="none">
<path stroke-width="3" stroke-linejoin="miter" stroke-miterlimit="12" d="M368 1567.5L402.5 1572.5M422.5 1575.4L457 1580.3M457 1580.3L465 1581.5M465 1581.5L491.5 1577.2M511.5 1573.9L546 1568.3M546 1568.3L565.2 1565.2M565.2 1565.2L580.5 1563.3M600.5 1560.9L635 1556.6M635 1556.6L662 1553.3M662 1553.3L669.5 1549.6M689.5 1539.6L724 1522.3M724 1522.3L758.5 1505.1M778.5 1502.6L813 1500.9M813 1500.9L847.5 1499.2M867.5 1499.5L902 1505M902 1505L936.5 1510.6M956.5 1513.8L960.9 1514.5M960.9 1514.5L991 1527.1M991 1527.1L1025.5 1541.6M1045.5 1550L1061 1556.5M1061 1556.5L1080 1555.5M1080 1555.5L1114.5 1553.6M1134.5 1552.5L1159.5 1551.2M1159.5 1551.2L1169 1547.9M1169 1547.9L1203.5 1535.9M1223.5 1528.9L1256.9 1517.3M1256.9 1517.3L1258 1517.5M1258 1517.5L1292.5 1525.3M1312.5 1529.9L1347 1537.7M1347 1537.7L1357.4 1540M1357.4 1540L1381.5 1538M1401.5 1536.4L1436 1533.5M1436 1533.5L1457.8 1531.7M1457.8 1531.7L1470.5 1533.2M1490.5 1535.4L1525 1539.4M1525 1539.4L1554.6 1542.8M1554.6 1542.8L1559.5 1541.8M1579.5 1537.9L1614 1531.2M1614 1531.2L1648.5 1524.5M1668.5 1524.4L1703 1527.2M1703 1527.2L1737.5 1529.9M1757.5 1532.7L1792 1548.5M1792 1548.5L1826.5 1564.4M1846.5 1573.5L1851.9 1576M1851.9 1576L1881 1557.6M1881 1557.6L1915.5 1535.8M1935.5 1523.2L1953 1512.1M1953 1512.1L1969.5 1495.1M1969.5 1495.1L2003 1460.6M2022.4 1440.6L2052.7 1409.4M2052.7 1409.4L2055.8 1412.7M2055.8 1412.7L2087.8 1447.2M2106.4 1467.2L2138.5 1501.7M2138.5 1501.7L2150.4 1514.5M2150.4 1514.5L2164.5 1492.8M2177.5 1472.8L2199.9 1438.3M2199.9 1438.3L2222.3 1403.8M2235.3 1383.8L2250.1 1361.1M2250.1 1361.1L2256.5 1372.9M2256.5 1372.9L2275.1 1407.4M2285.9 1427.4L2304.6 1461.9M2304.6 1461.9L2323.3 1496.4M2334.1 1516.4L2349.7 1545.3M2349.7 1545.3L2355.3 1544.5M2355.3 1544.5L2389.8 1539.6M2409.8 1536.7L2444.3 1531.8M2444.3 1531.8L2447.5 1531.3M2447.5 1531.3L2478.8 1501.2M2498.8 1482L2533.3 1448.8M2533.3 1448.8L2548.2 1434.5M2548.2 1434.5L2567.8 1444.8M2587.8 1455.3L2622.3 1473.4M2622.3 1473.4L2648.1 1486.9M2648.1 1486.9L2656.8 1480.1M2676.8 1464.4L2711.3 1437.3M2711.3 1437.3L2745 1410.8M2745 1410.8L2745.8 1411.4M2765.8 1425.5L2800.3 1449.8M2800.3 1449.8L2834.8 1474.1M2854.8 1488.4L2889.3 1513.2M2889.3 1513.2L2923.8 1538.1M2943.8 1552.5L2944.9 1553.3M2944.9 1553.3L2978.3 1541M2978.3 1541L3012.8 1528.3M3032.8 1521L3042.8 1517.3M3042.8 1517.3L3067.3 1516.6M3067.3 1516.6L3101.8 1515.7M3121.8 1515.1L3143.1 1514.5"/>
<path stroke-width="3" d="M861.5 1467.5V1531.5M858 1468.5h7M858 1530.5h7M960.9 1502V1526M957.4 1503h7M957.4 1525h7M1061 1549.5V1561.5M1057.5 1550.5h7M1057.5 1560.5h7M1159.5 1539V1562M1156 1540h7M1156 1561h7M1357.4 1522V1556.5M1353.9 1523h7M1353.9 1555.5h7M1654.4 1514.5V1532M1650.9 1515.5h7M1650.9 1531h7M1754.4 1494V1568.7M1750.9 1495h7M1750.9 1567.7h7M2150.4 1489.4V1538.3M2146.9 1490.4h7M2146.9 1537.3h7M2845 1461.5V1499.9M2841.5 1462.5h7M2841.5 1498.9h7"/>
<path stroke-width="6" d="M354 1554h25v25h-25zM451 1568h25v25h-25zM551.2 1551.7h25v25h-25zM648 1539.8h25v25h-25zM747.9 1489.9h25v25h-25zM848.9 1485h25v25h-25zM945.7 1501h25v25h-25zM1046 1543h25v25h-25zM1145.8 1537.7h25v25h-25zM1242.9 1503.8h25v25h-25zM1343.9 1526.5h25v25h-25zM1443.8 1518.2h25v25h-25zM1540.6 1529.3h25v25h-25zM1640.9 1509.8h25v25h-25zM1740.8 1517.8h25v25h-25zM1837.9 1562.5h25v25h-25zM1939 1498.6h25v25h-25zM2038.7 1395.9h25v25h-25zM2136.5 1501h25v25h-25zM2236.1 1347.6h25v25h-25zM2335.7 1531.8h25v25h-25zM2433.5 1517.8h25v25h-25zM2534.2 1421h25v25h-25zM2634.1 1473.4h25v25h-25zM2731 1397.3h25v25h-25zM2831 1467.8h25v25h-25zM2930.9 1539.8h25v25h-25zM3028.8 1503.8h25v25h-25zM3129.1 1501h25v25h-25z"/>
</g>
<g filter="url(#th)"><text class="s" transform="translate(344.6 215) scale(1.0147 1.02)">Åpent hav</text>
<text class="s" transform="translate(1735 210.6) scale(0.9314 1.02)">Kyst</text>
<text class="s" transform="translate(2518.5 209.8) scale(1.0301 1.02)">Fjord</text></g>
<g fill="#000">
<rect x="285" y="75" width="2880" height="8"/>
<rect x="285" y="1596" width="2880" height="7"/>
<rect x="285" y="75" width="6" height="1528"/>
<rect x="3159" y="75" width="6" height="1528"/>
<rect x="1675" y="83" width="6" height="1513"/>
<rect x="2458" y="83" width="6" height="1513"/>
</g>
<g filter="url(#th)">
<text class="a" text-anchor="end" transform="translate(256.8 1633.5) scale(1.015 1.04)">0</text>
<text class="a" text-anchor="end" transform="translate(256.8 1506.7) scale(1.015 1.04)">2</text>
<text class="a" text-anchor="end" transform="translate(256.8 1379.9) scale(1.015 1.04)">4</text>
<text class="a" text-anchor="end" transform="translate(256.8 1253.1) scale(1.015 1.04)">6</text>
<text class="a" text-anchor="end" transform="translate(256.8 1126.3) scale(1.015 1.04)">8</text>
<g transform="translate(256.8 999.5) scale(1.015 1.04)"><text class="a" x="-97.88 -48.94"> 0</text><path class="g1" transform="translate(-97.88 0) scale(0.04297 -0.04129)" d="M763 0H583V1147Q518 1085 412.5 1023T223 930V1104Q373 1174.5 485.5 1275T644 1470H763Z"/></g>
<g transform="translate(256.8 872.7) scale(1.015 1.04)"><text class="a" x="-97.88 -48.94"> 2</text><path class="g1" transform="translate(-97.88 0) scale(0.04297 -0.04129)" d="M763 0H583V1147Q518 1085 412.5 1023T223 930V1104Q373 1174.5 485.5 1275T644 1470H763Z"/></g>
<g transform="translate(256.8 745.9) scale(1.015 1.04)"><text class="a" x="-97.88 -48.94"> 4</text><path class="g1" transform="translate(-97.88 0) scale(0.04297 -0.04129)" d="M763 0H583V1147Q518 1085 412.5 1023T223 930V1104Q373 1174.5 485.5 1275T644 1470H763Z"/></g>
<g transform="translate(256.8 619.1) scale(1.015 1.04)"><text class="a" x="-97.88 -48.94"> 6</text><path class="g1" transform="translate(-97.88 0) scale(0.04297 -0.04129)" d="M763 0H583V1147Q518 1085 412.5 1023T223 930V1104Q373 1174.5 485.5 1275T644 1470H763Z"/></g>
<g transform="translate(256.8 492.3) scale(1.015 1.04)"><text class="a" x="-97.88 -48.94"> 8</text><path class="g1" transform="translate(-97.88 0) scale(0.04297 -0.04129)" d="M763 0H583V1147Q518 1085 412.5 1023T223 930V1104Q373 1174.5 485.5 1275T644 1470H763Z"/></g>
<text class="a" text-anchor="end" transform="translate(256.8 365.5) scale(1.015 1.04)">20</text>
<text class="a" text-anchor="end" transform="translate(256.8 238.7) scale(1.015 1.04)">22</text>
<text class="a" text-anchor="end" transform="translate(256.8 111.9) scale(1.015 1.04)">24</text>
</g>
<g filter="url(#th)">
<g transform="translate(365.5 1630.5) rotate(-90) scale(1.022 1.04)"><text class="a" x="-122.33 -73.39 -48.94">2. </text><path class="g1" transform="translate(-48.94 0) scale(0.04297 -0.04129)" d="M763 0H583V1147Q518 1085 412.5 1023T223 930V1104Q373 1174.5 485.5 1275T644 1470H763Z"/></g>
<g transform="translate(464.6 1630.5) rotate(-90) scale(1.022 1.04)"><text class="a" x="-122.33 -73.39 -48.94">3. </text><path class="g1" transform="translate(-48.94 0) scale(0.04297 -0.04129)" d="M763 0H583V1147Q518 1085 412.5 1023T223 930V1104Q373 1174.5 485.5 1275T644 1470H763Z"/></g>
<g transform="translate(563.8 1630.5) rotate(-90) scale(1.022 1.04)"><text class="a" x="-122.33 -73.39 -48.94">8. </text><path class="g1" transform="translate(-48.94 0) scale(0.04297 -0.04129)" d="M763 0H583V1147Q518 1085 412.5 1023T223 930V1104Q373 1174.5 485.5 1275T644 1470H763Z"/></g>
<g transform="translate(662.9 1630.5) rotate(-90) scale(1.022 1.04)"><text class="a" x="-122.33 -73.39 -48.94">9. </text><path class="g1" transform="translate(-48.94 0) scale(0.04297 -0.04129)" d="M763 0H583V1147Q518 1085 412.5 1023T223 930V1104Q373 1174.5 485.5 1275T644 1470H763Z"/></g>
<g transform="translate(762.1 1630.5) rotate(-90) scale(1.022 1.04)"><text class="a" x="-171.27 -122.33 -73.39 -48.94"> 3. </text><path class="g1" transform="translate(-171.27 0) scale(0.04297 -0.04129)" d="M763 0H583V1147Q518 1085 412.5 1023T223 930V1104Q373 1174.5 485.5 1275T644 1470H763Z"/><path class="g1" transform="translate(-48.94 0) scale(0.04297 -0.04129)" d="M763 0H583V1147Q518 1085 412.5 1023T223 930V1104Q373 1174.5 485.5 1275T644 1470H763Z"/></g>
<g transform="translate(861.2 1630.5) rotate(-90) scale(1.022 1.04)"><text class="a" x="-171.27 -122.33 -73.39 -48.94"> 6. </text><path class="g1" transform="translate(-171.27 0) scale(0.04297 -0.04129)" d="M763 0H583V1147Q518 1085 412.5 1023T223 930V1104Q373 1174.5 485.5 1275T644 1470H763Z"/><path class="g1" transform="translate(-48.94 0) scale(0.04297 -0.04129)" d="M763 0H583V1147Q518 1085 412.5 1023T223 930V1104Q373 1174.5 485.5 1275T644 1470H763Z"/></g>
<g transform="translate(960.3 1630.5) rotate(-90) scale(1.022 1.04)"><text class="a" x="-171.27 -122.33 -73.39 -48.94">22. </text><path class="g1" transform="translate(-48.94 0) scale(0.04297 -0.04129)" d="M763 0H583V1147Q518 1085 412.5 1023T223 930V1104Q373 1174.5 485.5 1275T644 1470H763Z"/></g>
<g transform="translate(1059.5 1630.5) rotate(-90) scale(1.022 1.04)"><text class="a" x="-171.27 -122.33 -73.39 -48.94">23. </text><path class="g1" transform="translate(-48.94 0) scale(0.04297 -0.04129)" d="M763 0H583V1147Q518 1085 412.5 1023T223 930V1104Q373 1174.5 485.5 1275T644 1470H763Z"/></g>
<g transform="translate(1158.6 1630.5) rotate(-90) scale(1.022 1.04)"><text class="a" x="-171.27 -122.33 -73.39 -48.94">24. </text><path class="g1" transform="translate(-48.94 0) scale(0.04297 -0.04129)" d="M763 0H583V1147Q518 1085 412.5 1023T223 930V1104Q373 1174.5 485.5 1275T644 1470H763Z"/></g>
<g transform="translate(1257.8 1630.5) rotate(-90) scale(1.022 1.04)"><text class="a" x="-171.27 -122.33 -73.39 -48.94">25. </text><path class="g1" transform="translate(-48.94 0) scale(0.04297 -0.04129)" d="M763 0H583V1147Q518 1085 412.5 1023T223 930V1104Q373 1174.5 485.5 1275T644 1470H763Z"/></g>
<g transform="translate(1356.9 1630.5) rotate(-90) scale(1.022 1.04)"><text class="a" x="-171.27 -122.33 -73.39 -48.94">26. </text><path class="g1" transform="translate(-48.94 0) scale(0.04297 -0.04129)" d="M763 0H583V1147Q518 1085 412.5 1023T223 930V1104Q373 1174.5 485.5 1275T644 1470H763Z"/></g>
<g transform="translate(1456 1630.5) rotate(-90) scale(1.022 1.04)"><text class="a" x="-171.27 -122.33 -73.39 -48.94">27. </text><path class="g1" transform="translate(-48.94 0) scale(0.04297 -0.04129)" d="M763 0H583V1147Q518 1085 412.5 1023T223 930V1104Q373 1174.5 485.5 1275T644 1470H763Z"/></g>
<g transform="translate(1555.2 1630.5) rotate(-90) scale(1.022 1.04)"><text class="a" x="-171.27 -122.33 -73.39 -48.94">28. </text><path class="g1" transform="translate(-48.94 0) scale(0.04297 -0.04129)" d="M763 0H583V1147Q518 1085 412.5 1023T223 930V1104Q373 1174.5 485.5 1275T644 1470H763Z"/></g>
<g transform="translate(1654.3 1630.5) rotate(-90) scale(1.022 1.04)"><text class="a" x="-171.27 -122.33 -73.39 -48.94">29. </text><path class="g1" transform="translate(-48.94 0) scale(0.04297 -0.04129)" d="M763 0H583V1147Q518 1085 412.5 1023T223 930V1104Q373 1174.5 485.5 1275T644 1470H763Z"/></g>
<g transform="translate(1753.5 1630.5) rotate(-90) scale(1.022 1.04)"><text class="a" x="-122.33 -73.39 -48.94"> .2</text><path class="g1" transform="translate(-122.33 0) scale(0.04297 -0.04129)" d="M763 0H583V1147Q518 1085 412.5 1023T223 930V1104Q373 1174.5 485.5 1275T644 1470H763Z"/></g>
<text class="a" text-anchor="end" transform="translate(1852.6 1630.5) rotate(-90) scale(1.022 1.04)">4.2</text>
<g transform="translate(1951.7 1630.5) rotate(-90) scale(1.022 1.04)"><text class="a" x="-171.27 -122.33 -73.39 -48.94"> 0.2</text><path class="g1" transform="translate(-171.27 0) scale(0.04297 -0.04129)" d="M763 0H583V1147Q518 1085 412.5 1023T223 930V1104Q373 1174.5 485.5 1275T644 1470H763Z"/></g>
<g transform="translate(2050.9 1630.5) rotate(-90) scale(1.022 1.04)"><text class="a" x="-171.27 -122.33 -73.39 -48.94">  .2</text><path class="g1" transform="translate(-171.27 0) scale(0.04297 -0.04129)" d="M763 0H583V1147Q518 1085 412.5 1023T223 930V1104Q373 1174.5 485.5 1275T644 1470H763Z"/><path class="g1" transform="translate(-122.33 0) scale(0.04297 -0.04129)" d="M763 0H583V1147Q518 1085 412.5 1023T223 930V1104Q373 1174.5 485.5 1275T644 1470H763Z"/></g>
<g transform="translate(2150 1630.5) rotate(-90) scale(1.022 1.04)"><text class="a" x="-171.27 -122.33 -73.39 -48.94"> 4.2</text><path class="g1" transform="translate(-171.27 0) scale(0.04297 -0.04129)" d="M763 0H583V1147Q518 1085 412.5 1023T223 930V1104Q373 1174.5 485.5 1275T644 1470H763Z"/></g>
<g transform="translate(2249.2 1630.5) rotate(-90) scale(1.022 1.04)"><text class="a" x="-171.27 -122.33 -73.39 -48.94"> 5.2</text><path class="g1" transform="translate(-171.27 0) scale(0.04297 -0.04129)" d="M763 0H583V1147Q518 1085 412.5 1023T223 930V1104Q373 1174.5 485.5 1275T644 1470H763Z"/></g>
<g transform="translate(2348.3 1630.5) rotate(-90) scale(1.022 1.04)"><text class="a" x="-171.27 -122.33 -73.39 -48.94"> 8.2</text><path class="g1" transform="translate(-171.27 0) scale(0.04297 -0.04129)" d="M763 0H583V1147Q518 1085 412.5 1023T223 930V1104Q373 1174.5 485.5 1275T644 1470H763Z"/></g>
<g transform="translate(2447.4 1630.5) rotate(-90) scale(1.022 1.04)"><text class="a" x="-171.27 -122.33 -73.39 -48.94">2 .2</text><path class="g1" transform="translate(-122.33 0) scale(0.04297 -0.04129)" d="M763 0H583V1147Q518 1085 412.5 1023T223 930V1104Q373 1174.5 485.5 1275T644 1470H763Z"/></g>
<text class="a" text-anchor="end" transform="translate(2546.6 1630.5) rotate(-90) scale(1.022 1.04)">5.3</text>
<text class="a" text-anchor="end" transform="translate(2645.7 1630.5) rotate(-90) scale(1.022 1.04)">6.3</text>
<text class="a" text-anchor="end" transform="translate(2744.9 1630.5) rotate(-90) scale(1.022 1.04)">7.3</text>
<g transform="translate(2844 1630.5) rotate(-90) scale(1.022 1.04)"><text class="a" x="-171.27 -122.33 -73.39 -48.94"> 2.3</text><path class="g1" transform="translate(-171.27 0) scale(0.04297 -0.04129)" d="M763 0H583V1147Q518 1085 412.5 1023T223 930V1104Q373 1174.5 485.5 1275T644 1470H763Z"/></g>
<g transform="translate(2943.1 1630.5) rotate(-90) scale(1.022 1.04)"><text class="a" x="-171.27 -122.33 -73.39 -48.94"> 7.3</text><path class="g1" transform="translate(-171.27 0) scale(0.04297 -0.04129)" d="M763 0H583V1147Q518 1085 412.5 1023T223 930V1104Q373 1174.5 485.5 1275T644 1470H763Z"/></g>
<g transform="translate(3042.3 1630.5) rotate(-90) scale(1.022 1.04)"><text class="a" x="-171.27 -122.33 -73.39 -48.94"> 9.3</text><path class="g1" transform="translate(-171.27 0) scale(0.04297 -0.04129)" d="M763 0H583V1147Q518 1085 412.5 1023T223 930V1104Q373 1174.5 485.5 1275T644 1470H763Z"/></g>
<text class="a" text-anchor="end" transform="translate(3141.4 1630.5) rotate(-90) scale(1.022 1.04)">20.3</text>
</g>
<g filter="url(#th)"><text class="a" text-anchor="middle" transform="translate(1723.5 1916.2) scale(1.0 1.03)">Stasjon</text></g>
<g filter="url(#th)"><text class="a" text-anchor="middle" transform="translate(105 841.5) rotate(-90) scale(1.02 1.0)">[µg/kg]</text></g>
<g stroke="#800000" fill="none" stroke-width="3">
<path d="M3230 1527.6h70M3230 1608.5h70M3264.6 1527.6V1608.5"/>
<path d="M3230 1567.4 L3300 1567.4"/>
<path stroke-width="6" d="M3251 1554h25v25h-25z"/>
</g>
<g stroke="#008000" fill="none" stroke-width="3">
<path d="M3230 1630.5h70M3230 1711.3h70M3264.6 1630.5V1711.3"/>
<path d="M3230 1671.4L3244 1671.4M3253 1671.4L3267 1671.4M3276 1671.4L3290 1671.4"/>
<path stroke-width="6" d="M3251 1656.8h25v25h-25z"/>
</g>
<g stroke="#000080" fill="none" stroke-width="3">
<path d="M3230 1734.6h70M3230 1814.4h70M3264.6 1734.6V1814.4"/>
<path d="M3230 1774.4L3236 1774.4M3238.3 1774.4L3244.3 1774.4M3246.7 1774.4L3252.7 1774.4M3255.1 1774.4L3261.1 1774.4M3263.4 1774.4L3269.4 1774.4M3271.8 1774.4L3277.8 1774.4M3280.1 1774.4L3286.1 1774.4M3288.4 1774.4L3294.4 1774.4"/>
<path stroke-width="6" d="M3251 1759.9h25v25h-25z"/>
</g>
<g stroke="#000000" fill="none" stroke-width="3">
<path d="M3230 1837.4h70M3230 1917.4h70M3264.6 1837.4V1917.4"/>
<path d="M3230 1877.4L3264.5 1877.4M3284.5 1877.4L3300 1877.4"/>
<path stroke-width="6" d="M3251 1862.8h25v25h-25z"/>
</g>
<g filter="url(#th)">
<text class="a" text-anchor="start" transform="translate(3332.3 1598.5) scale(0.9916 1.03)">Dieldrin</text>
<text class="a" text-anchor="start" transform="translate(3332.3 1701.4) scale(0.988 1.03)">Hexachlorobenzene (HCB)</text>
<text class="a" text-anchor="start" transform="translate(3332.3 1804.3) scale(0.9935 1.03)">Pentachlorobenzene</text>
<text class="a" text-anchor="start" transform="translate(3331.5 1907.3) scale(1.0046 1.03)">Octachlorstyrene</text>
</g>
</svg>
</body>
</html>
